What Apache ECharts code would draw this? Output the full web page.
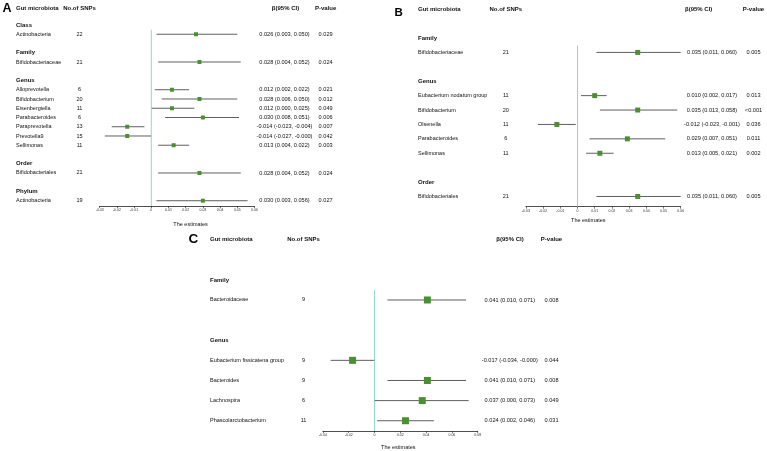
<!DOCTYPE html>
<html><head><meta charset="utf-8">
<script src="https://cdn.jsdelivr.net/npm/echarts@6/dist/echarts.min.js"></script>
<style>html,body{margin:0;padding:0;background:#fff}#c{width:767px;height:451px}</style>
</head><body><div id="c"></div>
<script>
// ---------- Panel A data ----------
const aGroups = ['Class', 'Family', 'Genus', 'Order', 'Phylum'];
const aGroupIdx = [0, 1, 2, 2, 2, 2, 2, 2, 2, 3, 4];
const aNames = ['Actinobacteria', 'Bifidobacteriaceae', 'Alloprevotella', 'Bifidobacterium', 'Eisenbergiella', 'Parabacteroides', 'Paraprevotella', 'Prevotella9', 'Sellimonas', 'Bifidobacteriales', 'Actinobacteria'];
const aSnps = [22, 21, 6, 20, 11, 6, 13, 15, 11, 21, 19];
const aBeta = [0.026, 0.028, 0.012, 0.028, 0.012, 0.030, -0.014, -0.014, 0.013, 0.028, 0.030];
const aLow = [0.003, 0.004, 0.002, 0.006, 0.0002, 0.008, -0.023, -0.027, 0.004, 0.004, 0.003];
const aHigh = [0.050, 0.052, 0.022, 0.050, 0.025, 0.051, -0.004, -0.0002, 0.022, 0.052, 0.056];
const aP = ['0.029', '0.024', '0.021', '0.012', '0.049', '0.006', '0.007', '0.042', '0.003', '0.024', '0.027'];
const aTicks = [-0.03, -0.02, -0.01, 0, 0.01, 0.02, 0.03, 0.04, 0.05, 0.06];

// ---------- Panel B data ----------
const bGroups = ['Family', 'Genus', 'Order'];
const bGroupIdx = [0, 1, 1, 1, 1, 1, 2];
const bNames = ['Bifidobacteriaceae', 'Eubacterium nodatum group', 'Bifidobacterium', 'Olsenella', 'Parabacteroides', 'Sellimonas', 'Bifidobacteriales'];
const bSnps = [21, 11, 20, 11, 6, 11, 21];
const bBeta = [0.035, 0.010, 0.035, -0.012, 0.029, 0.013, 0.035];
const bLow = [0.011, 0.002, 0.013, -0.023, 0.007, 0.005, 0.011];
const bHigh = [0.060, 0.017, 0.058, -0.001, 0.051, 0.021, 0.060];
const bP = ['0.005', '0.013', '<0.001', '0.036', '0.011', '0.002', '0.005'];
const bTicks = [-0.03, -0.02, -0.01, 0, 0.01, 0.02, 0.03, 0.04, 0.05, 0.06];

// ---------- Panel C data ----------
const cGroups = ['Family', 'Genus'];
const cGroupIdx = [0, 1, 1, 1, 1];
const cNames = ['Bacteroidaceae', 'Eubacterium fissicatena group', 'Bacteroides', 'Lachnospira', 'Phascolarctobacterium'];
const cSnps = [9, 9, 9, 6, 11];
const cBeta = [0.041, -0.017, 0.041, 0.037, 0.024];
const cLow = [0.010, -0.034, 0.010, 0.0002, 0.002];
const cHigh = [0.071, -0.0002, 0.071, 0.073, 0.046];
const cP = ['0.008', '0.044', '0.008', '0.049', '0.031'];
const cTicks = [-0.04, -0.02, 0, 0.02, 0.04, 0.06, 0.08];

const headers = ['Gut microbiota', 'No.of SNPs', 'β(95% CI)', 'P-value'];

// ---------- layout / style ----------
const FONT = '"Liberation Sans", Arial, sans-serif';
const TXT = '#111111';
const GREEN = '#4b9030';
const CI_COLOR = '#5f5f5f';
const ZERO_COLOR = '#94d6d2';

const layouts = [
  { left: 99.7, top: 6.5, width: 154.8, height: 199.5, yMin: -2, yMax: 19.57, headRow: -1.85,
    labelX: 16, snpX: 79.5, betaX: 284.5, betaHeadX: 285.5, pX: 325.6, sym: 4,
    nameGap: 15, namePad: [0, 0, 0, 27], step: 0.01 },
  { left: 525.9, top: 9.2, width: 154.8, height: 197.5, yMin: -2, yMax: 11.71, headRow: -2,
    labelX: 418, snpX: 505.8, betaX: 712, betaHeadX: 698.7, pX: 753.5, sym: 5,
    nameGap: 11, namePad: [0, 30, 0, 0], step: 0.01 },
  { left: 322.9, top: 239.6, width: 154.8, height: 192.1, yMin: -2, yMax: 7.51, headRow: -2,
    labelX: 210, snpX: 303.5, betaX: 509.8, betaHeadX: 510, pX: 551.5, sym: 7,
    nameGap: 13, namePad: [0, 4, 0, 0], step: 0.02 }
];

const panels = [
  { groups: aGroups, groupIdx: aGroupIdx, names: aNames, snps: aSnps, beta: aBeta, low: aLow, high: aHigh, p: aP, ticks: aTicks },
  { groups: bGroups, groupIdx: bGroupIdx, names: bNames, snps: bSnps, beta: bBeta, low: bLow, high: bHigh, p: bP, ticks: bTicks },
  { groups: cGroups, groupIdx: cGroupIdx, names: cNames, snps: cSnps, beta: cBeta, low: cLow, high: cHigh, p: cP, ticks: cTicks }
];

function f3(v) { return v.toFixed(3); }

function buildRows(d, L) {
  const rows = [{ kind: 'header', y: L.headRow }];
  let r = 0;
  d.groups.forEach((g, gi) => {
    rows.push({ kind: 'group', text: g, y: r }); r++;
    d.groupIdx.forEach((x, i) => { if (x === gi) { rows.push({ kind: 'item', i: i, y: r }); r++; } });
    r++;
  });
  return rows;
}

const grid = [], xAxis = [], yAxis = [], series = [];

panels.forEach((d, k) => {
  const L = layouts[k];
  const rows = buildRows(d, L);
  const items = rows.filter(r => r.kind === 'item');
  grid.push({ left: L.left, top: L.top, width: L.width, height: L.height, containLabel: false });
  xAxis.push({
    type: 'value', gridIndex: k,
    min: d.ticks[0], max: d.ticks[d.ticks.length - 1], interval: L.step,
    axisLine: { show: true, onZero: false, lineStyle: { color: '#222', width: 0.8 } },
    axisTick: { show: true, length: 2, customValues: d.ticks, lineStyle: { color: '#222', width: 0.6 } },
    axisLabel: { customValues: d.ticks, fontSize: 3.5, margin: 2.5, color: '#333', fontFamily: FONT,
      formatter: v => (Math.abs(v) < 1e-9 ? '0' : v.toFixed(2)) },
    splitLine: { show: false },
    name: 'The estimates', nameLocation: 'middle', nameGap: L.nameGap,
    nameTextStyle: { fontSize: 5.5, color: TXT, fontFamily: FONT, padding: L.namePad }
  });
  yAxis.push({ type: 'value', gridIndex: k, inverse: true, min: L.yMin, max: L.yMax, show: false });

  // zero reference line
  series.push({
    type: 'line', xAxisIndex: k, yAxisIndex: k, silent: true, symbol: 'none', z: 1,
    data: [[0, 0.5], [0, L.yMax]], lineStyle: { color: ZERO_COLOR, width: 1 }
  });
  // CI whiskers
  series.push({
    type: 'custom', xAxisIndex: k, yAxisIndex: k, silent: true, z: 2,
    data: items.map(r => [d.low[r.i], d.high[r.i], r.y]),
    encode: { x: [0, 1], y: 2 },
    renderItem: (params, api) => {
      const p1 = api.coord([api.value(0), api.value(2)]);
      const p2 = api.coord([api.value(1), api.value(2)]);
      return { type: 'line', shape: { x1: p1[0], y1: p1[1], x2: p2[0], y2: p2[1] },
        style: { stroke: CI_COLOR, lineWidth: 1 } };
    }
  });
  // point estimates
  series.push({
    type: 'scatter', xAxisIndex: k, yAxisIndex: k, silent: true, z: 3,
    symbol: 'rect', symbolSize: L.sym, itemStyle: { color: GREEN, opacity: 1 },
    data: items.map(r => [d.beta[r.i], r.y])
  });
  // table text
  series.push({
    type: 'custom', xAxisIndex: k, yAxisIndex: k, silent: true, z: 4, clip: false,
    data: rows.map(r => [0, r.y]),
    encode: { x: 0, y: 1 },
    renderItem: (params, api) => {
      const row = rows[params.dataIndex];
      const y = api.coord([0, row.y])[1];
      const t = (x, text, align, bold, size) => ({
        type: 'text', x: x, y: y,
        style: { text: String(text), fill: TXT, align: align, verticalAlign: 'middle',
          font: (bold ? 'bold ' : '') + size + 'px ' + FONT }
      });
      if (row.kind === 'header') {
        return { type: 'group', children: [
          t(L.labelX, headers[0], 'left', true, 6),
          t(L.snpX, headers[1], 'center', true, 6),
          t(L.betaHeadX, headers[2], 'center', true, 6),
          t(L.pX, headers[3], 'center', true, 6)
        ] };
      }
      if (row.kind === 'group') {
        return { type: 'group', children: [t(L.labelX, row.text, 'left', true, 6)] };
      }
      const i = row.i;
      return { type: 'group', children: [
        t(L.labelX, d.names[i], 'left', false, 5.5),
        t(L.snpX, d.snps[i], 'center', false, 5.5),
        t(L.betaX, f3(d.beta[i]) + ' (' + f3(d.low[i]) + ', ' + f3(d.high[i]) + ')', 'center', false, 5.6),
        t(L.pX, d.p[i], 'center', false, 5.6)
      ] };
    }
  });
});

const chart = echarts.init(document.getElementById('c'), null, { renderer: 'canvas' });
chart.setOption({
  backgroundColor: '#ffffff',
  animation: false,
  grid: grid, xAxis: xAxis, yAxis: yAxis, series: series,
  graphic: [
    { type: 'text', left: 2.5, top: 2.5, style: { text: 'A', font: 'bold 12.5px ' + FONT, fill: '#000' } },
    { type: 'text', left: 394.5, top: 7, style: { text: 'B', font: 'bold 11.5px ' + FONT, fill: '#000' } },
    { type: 'text', left: 188.5, top: 232, style: { text: 'C', font: 'bold 13.5px ' + FONT, fill: '#000' } }
  ]
});
</script>
</body></html>
